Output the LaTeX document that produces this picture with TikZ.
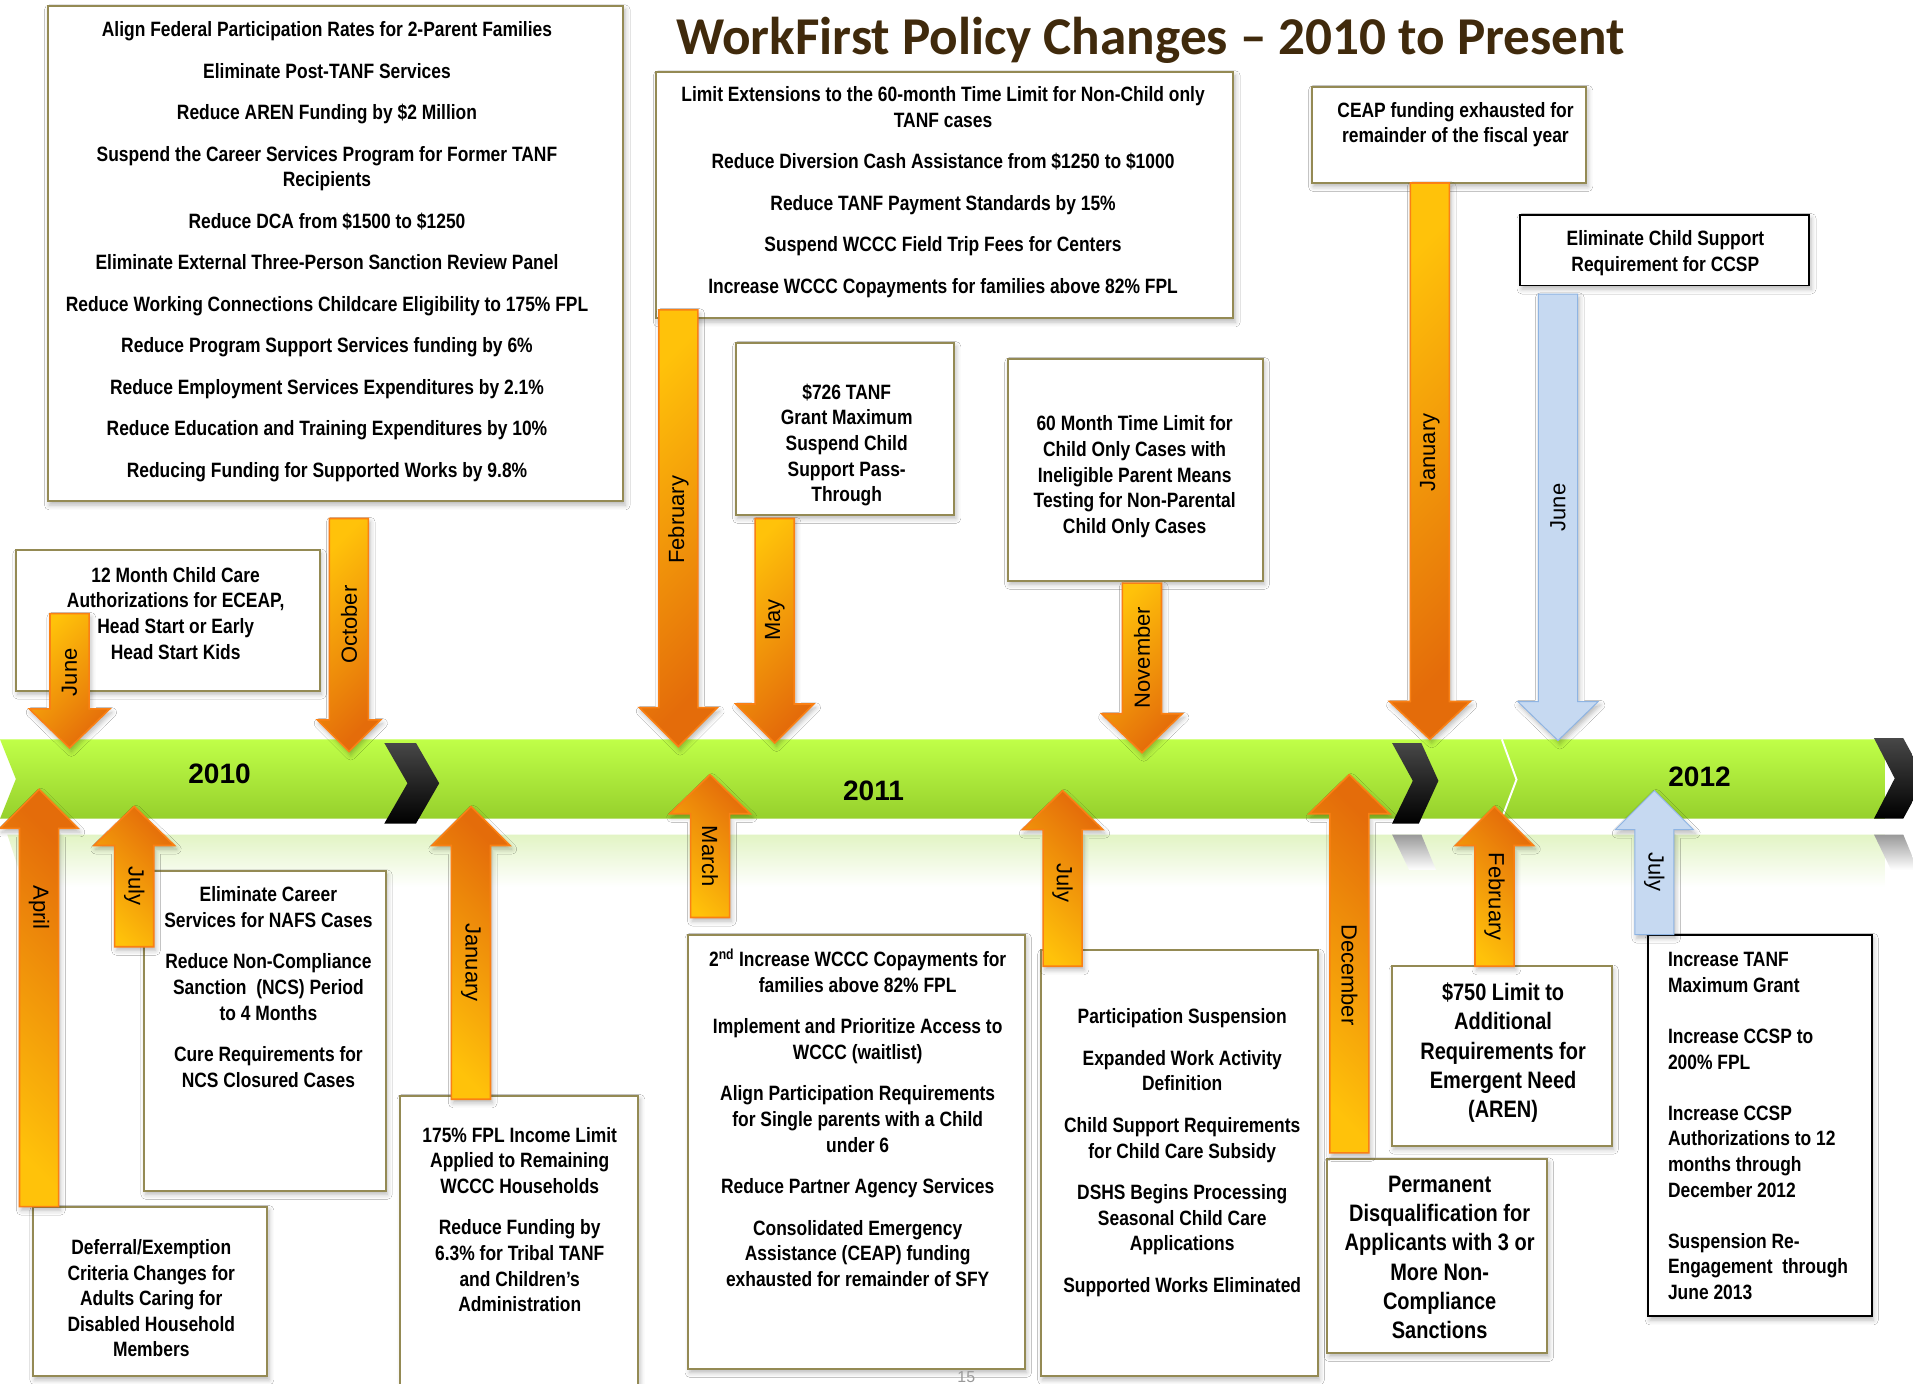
\documentclass[tikz,border=0pt]{standalone}
\usepackage{fontspec}
\setmainfont{Liberation Sans}
\newfontfamily\nar{Liberation Sans}[FakeStretch=0.84]
\newfontfamily\ttl{Carlito}
\usetikzlibrary{shadows.blur}
\definecolor{boxline}{RGB}{148,138,84}
\definecolor{arY}{RGB}{255,194,10}
\definecolor{arO}{RGB}{228,108,10}
\definecolor{arLine}{RGB}{250,128,20}
\definecolor{blFill}{RGB}{198,217,241}
\definecolor{blLine}{RGB}{142,180,227}
\definecolor{gTop}{RGB}{192,255,72}
\definecolor{gBot}{RGB}{150,208,44}
\definecolor{gRef}{RGB}{226,244,196}
\definecolor{titlec}{RGB}{64,42,12}
\tikzset{
  shd/.style={blur shadow={shadow xshift=1.5pt, shadow yshift=-3pt, shadow blur radius=4pt, shadow opacity=28}},
  pbox/.style={draw=boxline, line width=1.6pt, fill=white, shd},
  kbox/.style={draw=black, line width=1.6pt, fill=white, shd},
  darr/.style={draw=arLine, line width=1.3pt, top color=arY, bottom color=arO, shading angle=45, shd},
  uarr/.style={draw=arLine, line width=1.3pt, top color=arO, bottom color=arY, shading angle=-45, shd},
  barr/.style={draw=blLine, line width=0.8pt, fill=blFill, shd},
  mlab/.style={font=\fontsize{18}{20}\selectfont, inner sep=0pt},
  txt/.style={font=\nar\bfseries\fontsize{17}{21}\selectfont, align=center, inner sep=0pt, anchor=north},
  bigtxt/.style={font=\nar\bfseries\fontsize{19.5}{24}\selectfont, align=center, inner sep=0pt, anchor=north},
  ltxt/.style={font=\nar\bfseries\fontsize{17}{21}\selectfont, align=left, inner sep=0pt, anchor=north west},
  yr/.style={font=\bfseries\fontsize{23}{26}\selectfont, inner sep=0pt, anchor=base},
  chev/.style={top color=black!72, bottom color=black, draw=none},
  chevref/.style={top color=black!40, bottom color=white, draw=none},
}
% #1 style, #2 name, #3 cx, #4 shaft end, #5 head base, #6 tip, #7 head half width, #8 label, #9 label y
\newcommand{\DArr}[9]{%
  \path[#1] (#3-16,#4) -- (#3+16,#4) -- (#3+16,#5) -- (#3+#7,#5) -- (#3,#6) -- (#3-#7,#5) -- (#3-16,#5) -- cycle;
  \node[mlab, rotate=90] (#2) at (#3,#9) {#8};}
\newcommand{\UArr}[9]{%
  \path[#1] (#3-16,#4) -- (#3+16,#4) -- (#3+16,#5) -- (#3+#7,#5) -- (#3,#6) -- (#3-#7,#5) -- (#3-16,#5) -- cycle;
  \node[mlab, rotate=-90] (#2) at (#3,#9) {#8};}
\begin{document}
\begin{tikzpicture}[x=1pt,y=-1pt]
\useasboundingbox (0,0) rectangle (1568,1134);
\fill[white] (0,0) rectangle (1568,1134);

% title
\node[font=\ttl\bfseries\fontsize{43.6}{48}\selectfont, text=titlec, anchor=base, inner sep=0pt] (title) at (943,45) {WorkFirst Policy Changes – 2010 to Present};

% timeline band
\path[top color=gTop, bottom color=gBot] (0,606) -- (1545,606) -- (1545,671) -- (0,671) -- (13,638.5) -- cycle;
\path[top color=gRef, bottom color=white] (6,684) -- (1545,684) -- (1545,727) -- (20,727) -- cycle;
\path[chevref] (1141,684) -- (1165,684) -- (1177,713) -- (1155,713) -- cycle;
\path[chevref] (1536,684) -- (1560,684) -- (1572,713) -- (1550,713) -- cycle;
\path[chev] (315,609) -- (341,609) -- (360,642) -- (341,675) -- (315,675) -- (334,642) -- cycle;
\path[chev] (1141,609) -- (1165,609) -- (1179,640) -- (1163,675) -- (1141,675) -- (1158,640) -- cycle;
\path[chev] (1536,605) -- (1560,605) -- (1578,638) -- (1560,671) -- (1536,671) -- (1553,638) -- cycle;
\draw[white, line width=1.6pt] (1231,606) -- (1243,639) -- (1232,668);
\node[yr] (y2010) at (180,642) {2010};
\node[yr] (y2011) at (716,656) {2011};
\node[yr] (y2012) at (1393,645) {2012};

% boxes
\path[pbox] (39,5) rectangle (511,411);
\path[pbox] (538,59) rectangle (1011,261);
\path[pbox] (1075,71) rectangle (1300,150);
\path[kbox] (1246,176) rectangle (1483,234);
\path[pbox] (603,281) rectangle (782,422);
\path[pbox] (826,294) rectangle (1035,476);
\path[pbox] (13,451) rectangle (262,566);
\path[pbox] (118,714) rectangle (316,976);
\path[pbox] (27,989) rectangle (219,1128);
\path[pbox] (328,898) rectangle (523,1145);
\path[pbox] (564,766) rectangle (840,1122);
\path[pbox] (853,779) rectangle (1080,1128);
\path[pbox] (1141,792) rectangle (1321,939);
\path[pbox] (1088,950) rectangle (1268,1109);
\path[kbox] (1351,766) rectangle (1534,1079);

% box texts
\node[txt] (t1) at (268,15.3) {\strut Align Federal Participation Rates for 2-Parent Families\\[13pt]
Eliminate Post-TANF Services\\[13pt]
Reduce AREN Funding by \$2 Million\\[13pt]
Suspend the Career Services Program for Former TANF\\
Recipients\\[13pt]
Reduce DCA from \$1500 to \$1250\\[13pt]
Eliminate External Three-Person Sanction Review Panel\\[13pt]
Reduce Working Connections Childcare Eligibility to 175\% FPL\\[13pt]
Reduce Program Support Services funding by 6\%\\[13pt]
Reduce Employment Services Expenditures by 2.1\%\\[13pt]
Reduce Education and Training Expenditures by 10\%\\[13pt]
Reducing Funding for Supported Works by 9.8\%};
\node[txt] (t2) at (773,68.3) {\strut Limit Extensions to the 60-month Time Limit for Non-Child only\\
TANF cases\\[13pt]
Reduce Diversion Cash Assistance from \$1250 to \$1000\\[13pt]
Reduce TANF Payment Standards by 15\%\\[13pt]
Suspend WCCC Field Trip Fees for Centers\\[13pt]
Increase WCCC Copayments for families above 82\% FPL};
\node[txt] (t3) at (1193,81.3) {\strut CEAP funding exhausted for\\ remainder of the fiscal year};
\node[txt] (t4) at (1365,186.3) {\strut Eliminate Child Support\\ Requirement for CCSP};
\node[txt] (t5) at (694,312.3) {\strut \$726 TANF\\ Grant Maximum\\ Suspend Child\\ Support Pass-\\ Through};
\node[txt] (t6) at (930,338.3) {\strut 60 Month Time Limit for\\ Child Only Cases with\\ Ineligible Parent Means\\ Testing for Non-Parental\\ Child Only Cases};
\node[txt] (t7) at (144,462.3) {\strut 12 Month Child Care\\ Authorizations for ECEAP,\\ Head Start or Early\\ Head Start Kids};
\node[txt] (t8) at (220,724.3) {\strut Eliminate Career\\ Services for NAFS Cases\\[13pt]
Reduce Non-Compliance\\ Sanction\ \ (NCS) Period\\ to 4 Months\\[13pt]
Cure Requirements for\\ NCS Closured Cases};
\node[txt] (t9) at (124,1013.3) {\strut Deferral/Exemption\\ Criteria Changes for\\ Adults Caring for\\ Disabled Household\\ Members};
\node[txt] (t10) at (426,921.3) {\strut 175\% FPL Income Limit\\ Applied to Remaining\\ WCCC Households\\[13pt]
Reduce Funding by\\ 6.3\% for Tribal TANF\\ and Children’s\\ Administration};
\node[txt] (t11) at (703,777.3) {\strut 2\textsuperscript{nd} Increase WCCC Copayments for\\ families above 82\% FPL\\[13pt]
Implement and Prioritize Access to\\ WCCC (waitlist)\\[13pt]
Align Participation Requirements\\ for Single parents with a Child\\ under 6\\[13pt]
Reduce Partner Agency Services\\[13pt]
Consolidated Emergency\\ Assistance (CEAP) funding\\ exhausted for remainder of SFY};
\node[txt] (t12) at (969,824.3) {\strut Participation Suspension\\[13pt]
Expanded Work Activity\\ Definition\\[13pt]
Child Support Requirements\\ for Child Care Subsidy\\[13pt]
DSHS Begins Processing\\ Seasonal Child Care\\ Applications\\[13pt]
Supported Works Eliminated};
\node[bigtxt] (t13) at (1232,803.2) {\strut \$750 Limit to\\ Additional\\ Requirements for\\ Emergent Need\\ (AREN)};
\node[bigtxt] (t14) at (1180,960.2) {\strut Permanent\\ Disqualification for\\ Applicants with 3 or\\ More Non-\\ Compliance\\ Sanctions};
\node[ltxt] (t15) at (1367,777.3) {\strut Increase TANF\\ Maximum Grant\\[21pt]
Increase CCSP to\\ 200\% FPL\\[21pt]
Increase CCSP\\ Authorizations to 12\\ months through\\ December 2012\\[21pt]
Suspension Re-\\ Engagement\ \ through\\ June 2013};

% down arrows
\DArr{darr}{dJun10}{57}{503}{581}{613}{33}{June}{551}
\DArr{darr}{dOct10}{286}{425}{590}{616}{26}{October}{512}
\DArr{darr}{dFeb11}{556}{254}{580}{612}{32}{February}{426}
\DArr{darr}{dMay11}{635}{425}{577}{609}{32}{May}{508}
\DArr{darr}{dNov11}{936}{478}{585}{617}{33}{November}{539}
\DArr{darr}{dJan12}{1172}{150}{575}{606}{33}{January}{371}
\DArr{barr}{dJun12}{1277}{241}{575}{607}{33}{June}{416}

% up arrows
\UArr{uarr}{uApr10}{32}{989}{679}{647}{32}{April}{744}
\UArr{uarr}{uJul10}{110}{776}{693}{661}{33}{July}{726}
\UArr{uarr}{uJan11}{386}{901}{693}{661}{32}{January}{789}
\UArr{uarr}{uMar11}{582}{752}{667}{635}{33}{March}{702}
\UArr{uarr}{uJul11}{871}{792}{680}{648}{33}{July}{724}
\UArr{uarr}{uDec11}{1106}{945}{667}{635}{33}{December}{799}
\UArr{uarr}{uFeb12}{1225}{792}{693}{661}{32}{February}{735}
\UArr{barr}{uJul12}{1356}{766}{680}{648}{32}{July}{715}

% page number
\node[font=\fontsize{13}{13}\selectfont, text=black!40, anchor=south, inner sep=0pt] (pnum) at (792,1133.5) {15};
\end{tikzpicture}
\end{document}
